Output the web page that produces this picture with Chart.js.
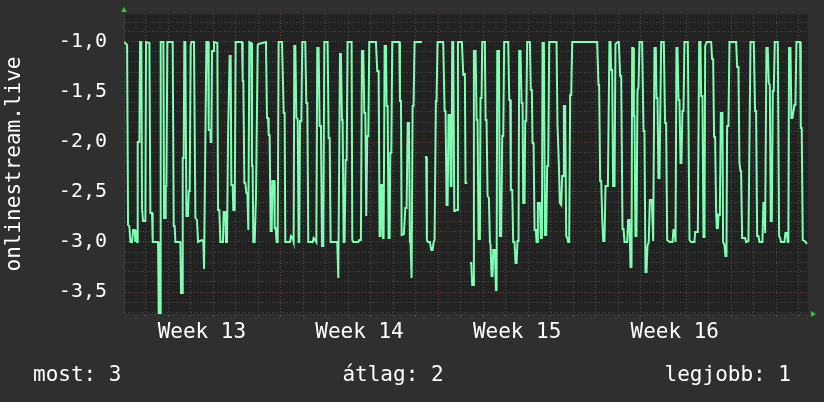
<!DOCTYPE html>
<html>
<head>
<meta charset="utf-8">
<script src="https://cdn.jsdelivr.net/npm/chart.js@4"></script>
<style>
  html, body { margin: 0; padding: 0; background: #2f2f2f; }
  canvas { display: block; }
</style>
</head>
<body>
<canvas id="chart" width="824" height="402"></canvas>
<script>
// idő (órák a 13. hét hétfőjétől) és érték párok
const samples = [
  [1.1,-1.0],[1.8,-1.0],[4.3,-1.03],[5.3,-2.83],[6.7,-2.84],[7.8,-3.0],[9.6,-3.0],[10.7,-2.88],[12.4,-2.88],[13.1,-3.0],[13.8,-2.88],[14.9,-3.0],[15.6,-2.0],[17.4,-2.0],[18.1,-1.0],[19.5,-1.0],[20.2,-2.66],[21.3,-2.79],[23.8,-2.79],[24.5,-1.0],[28.1,-1.01],[29.1,-2.71],[30.9,-2.71],[31.6,-3.0],[37.3,-3.0],[38.0,-3.72],[39.4,-3.72],[40.1,-1.0],[43.0,-1.0],[43.7,-2.76],[45.1,-2.76],[45.5,-2.44],[46.2,-2.44],[47.2,-1.0],[52.9,-1.0],[54.0,-2.84],[55.0,-2.84],[55.8,-3.0],[61.1,-3.0],[61.8,-3.51],[62.9,-3.51],[63.6,-2.16],[64.6,-2.16],[65.3,-1.0],[66.4,-1.0],[67.5,-2.74],[69.2,-2.74],[70.0,-2.49],[71.0,-2.49],[72.1,-1.03],[72.8,-1.0],[75.6,-1.0],[77.1,-2.76],[78.8,-2.78],[79.9,-3.0],[84.2,-2.98],[85.6,-3.0],[86.3,-3.27],[87.0,-3.27],[88.8,-1.0],[90.6,-1.0],[91.3,-1.88],[93.0,-1.88],[93.4,-2.0],[94.1,-2.0],[94.8,-1.09],[95.9,-1.09],[96.9,-1.0],[100.5,-1.01],[101.2,-2.68],[102.6,-2.68],[103.7,-3.0],[106.5,-3.0],[107.2,-2.7],[109.0,-2.7],[109.7,-3.0],[110.8,-3.0],[111.9,-1.94],[112.6,-1.94],[113.6,-1.14],[114.7,-1.14],[115.4,-2.43],[116.8,-2.43],[117.5,-2.68],[119.0,-2.68],[120.0,-1.0],
  [120.4,-1.0],[126.8,-1.0],[127.5,-1.39],[128.2,-1.39],[129.3,-2.41],[130.3,-2.41],[131.4,-2.51],[132.5,-2.51],[133.5,-2.88],[134.2,-2.88],[134.6,-1.0],[136.7,-1.01],[137.4,-2.24],[138.1,-2.24],[138.8,-3.0],[140.3,-3.0],[141.7,-2.53],[142.4,-2.53],[143.5,-1.03],[144.5,-1.02],[152.3,-1.0],[153.4,-1.76],[154.5,-1.76],[155.2,-1.93],[156.2,-1.93],[157.3,-2.89],[158.4,-2.89],[159.1,-2.39],[160.9,-2.39],[161.6,-2.86],[162.6,-2.86],[163.7,-3.0],[164.8,-3.0],[165.8,-1.0],[169.4,-1.0],[171.2,-1.71],[172.2,-1.71],[172.9,-3.0],[177.9,-3.0],[179.0,-2.94],[180.7,-2.96],[181.8,-3.0],[182.5,-1.04],[183.6,-1.04],[184.7,-1.76],[186.1,-1.77],[187.1,-3.0],[187.8,-3.0],[188.6,-1.79],[190.0,-1.79],[191.0,-1.0],[194.2,-1.0],[195.3,-1.61],[196.4,-1.61],[197.4,-3.0],[202.1,-3.0],[203.1,-2.96],[204.9,-2.98],[206.0,-3.0],[207.0,-1.06],[208.4,-1.06],[209.5,-1.84],[210.9,-1.84],[212.0,-3.04],[213.4,-3.04],[214.5,-1.0],[218.0,-1.0],[219.1,-1.96],[220.2,-1.96],[221.2,-3.0],[228.3,-3.0],[229.4,-3.36],[230.1,-3.36],[231.2,-1.12],[232.2,-1.12],[233.3,-1.78],[234.0,-1.78],[235.1,-3.0],[236.1,-3.0],[237.2,-2.18],[238.3,-2.18],[239.3,-1.0],[241.1,-1.0],
  [243.6,-1.0],[244.3,-2.98],[245.4,-3.0],[250.7,-3.0],[251.8,-2.98],[253.5,-2.98],[254.6,-1.09],[256.0,-1.09],[257.1,-1.71],[258.2,-1.71],[259.2,-2.74],[259.9,-2.74],[260.3,-1.94],[261.4,-1.94],[262.4,-1.0],[269.5,-1.0],[270.9,-1.29],[272.4,-1.29],[273.4,-2.94],[274.5,-2.94],[275.2,-2.43],[276.3,-2.43],[277.0,-2.96],[277.7,-2.96],[278.8,-1.04],[280.2,-1.04],[280.9,-1.64],[282.0,-1.64],[283.0,-2.96],[284.1,-2.96],[284.8,-2.11],[285.9,-2.11],[286.9,-1.0],[294.4,-1.0],[295.1,-1.59],[296.2,-1.59],[296.9,-2.93],[299.3,-2.92],[300.8,-2.66],[302.2,-2.66],[303.3,-1.81],[304.7,-1.81],[305.7,-3.0],[306.4,-3.0],[307.5,-3.36],[307.9,-3.36],[308.6,-1.64],[309.6,-1.64],[310.7,-1.0],[318.5,-1.0],[320.0,null],[321.7,-2.15],[323.1,-2.15],[323.8,-2.98],[324.9,-3.0],[327.0,-3.0],[328.5,-3.08],[329.9,-3.08],[331.0,-3.0],[332.0,-2.98],[333.4,-1.59],[334.1,-1.59],[335.2,-1.0],[341.2,-1.0],[342.7,-1.69],[343.7,-1.69],[344.8,-2.63],[345.9,-2.63],[346.9,-1.73],[348.4,-1.73],[349.1,-2.44],[350.1,-2.44],[350.8,-1.0],[351.9,-1.0],[353.0,-2.69],[354.0,-2.69],[355.1,-2.68],[356.2,-2.68],[356.9,-1.0],[361.1,-1.0],[362.6,-1.33],[364.0,-1.33],
  [364.3,-1.31],[365.0,-2.41],[366.8,-2.41],[368.2,null],[369.7,-3.21],[371.1,-3.21],[372.1,-3.43],[373.2,-3.43],[373.9,-1.09],[375.7,-1.09],[376.8,-1.78],[377.8,-1.78],[378.9,-2.97],[380.3,-2.97],[381.0,-1.56],[382.1,-1.56],[382.8,-1.0],[385.6,-1.0],[386.4,-1.78],[387.4,-1.78],[388.5,-2.54],[389.9,-2.56],[391.0,-3.0],[391.7,-3.03],[392.7,-3.34],[393.8,-3.34],[394.5,-3.08],[396.3,-3.08],[397.4,-3.48],[398.1,-3.48],[398.8,-1.09],[400.6,-1.09],[401.6,-2.94],[403.0,-2.94],[404.1,-1.94],[405.2,-1.94],[406.2,-1.0],[410.5,-1.0],[411.6,-1.58],[412.6,-1.58],[413.3,-2.48],[414.8,-2.48],[415.8,-3.0],[417.2,-3.0],[418.3,-3.21],[419.4,-3.21],[420.4,-2.99],[421.5,-2.99],[422.2,-1.09],[423.6,-1.09],[424.7,-1.61],[425.8,-1.61],[426.5,-2.61],[427.9,-2.61],[428.6,-1.79],[429.7,-1.79],[430.7,-1.0],[433.6,-1.0],[434.6,-1.48],[435.7,-1.48],[436.4,-2.01],[437.5,-2.01],[438.6,-2.88],[440.0,-2.88],[440.7,-3.0],[441.4,-3.0],[442.1,-2.61],[444.2,-2.61],[445.3,-2.96],[446.4,-2.96],[447.1,-1.01],[448.5,-1.01],[449.6,-2.93],[451.0,-2.93],[452.0,-2.24],[453.1,-2.24],[454.2,-1.0],[462.0,-1.0],[463.0,-1.83],[464.5,-2.23],[465.5,-2.61],[467.0,-2.63],[468.0,-2.34],[469.1,-2.34],[469.8,-1.64],[471.2,-1.64],[472.3,-2.94],[473.4,-2.96],[474.4,-3.0],[475.5,-3.0],[476.5,-1.53],[477.6,-1.53],[478.7,-1.0],[486.8,-1.0],
  [505.3,-1.0],[506.7,-1.43],[507.4,-1.43],[508.5,-2.39],[509.6,-2.39],[510.6,-2.74],[511.7,-2.99],[513.1,-2.99],[514.2,-2.44],[516.7,-2.44],[518.4,-1.0],[519.5,-1.0],[520.2,-1.28],[521.3,-1.28],[522.3,-2.44],[523.8,-2.44],[524.8,-1.02],[527.3,-1.0],[528.4,-1.0],[529.8,-1.34],[530.9,-1.34],[532.3,-2.87],[533.4,-2.87],[534.4,-3.0],[537.3,-3.0],[538.3,-2.78],[539.7,-2.78],[540.8,-3.25],[541.9,-3.25],[542.6,-1.06],[543.7,-1.06],[544.4,-1.74],[545.1,-1.74],[546.1,-2.94],[547.2,-2.94],[548.3,-1.48],[549.3,-1.46],[550.4,-1.0],[553.2,-1.0],[554.7,-1.89],[555.7,-1.89],[556.8,-3.3],[557.9,-3.3],[558.9,-3.04],[560.3,-3.0],[561.4,-2.58],[563.5,-2.58],[565.0,-2.99],[565.7,-2.99],[566.4,-1.06],[567.8,-1.06],[568.5,-1.56],[569.6,-1.56],[570.6,-2.36],[571.7,-2.36],[573.5,-1.0],[576.3,-1.0],[577.7,-1.81],[578.8,-1.81],[579.9,-2.98],[581.3,-2.99],[582.4,-3.0],[585.6,-3.0],[586.6,-2.88],[587.7,-2.88],[588.8,-3.0],[589.8,-1.06],[590.9,-1.06],[592.0,-1.58],[593.0,-1.58],[594.1,-2.21],[595.1,-2.21],[596.2,-1.69],[597.3,-1.69],[598.3,-1.0],[601.9,-1.0],[603.7,-2.98],[605.4,-3.0],
  [606.2,-3.0],[609.0,-3.0],[609.7,-2.9],[612.6,-2.9],[614.0,-1.0],[615.4,-1.0],[616.1,-1.54],[617.5,-1.54],[618.6,-2.95],[619.7,-2.95],[620.4,-1.04],[622.1,-1.0],[626.8,-1.0],[627.8,-1.17],[628.9,-1.17],[629.9,-1.95],[631.0,-1.95],[632.1,-2.71],[632.8,-2.86],[633.9,-2.86],[634.6,-2.73],[636.0,-2.73],[637.1,-1.71],[638.8,-1.71],[639.5,-3.0],[641.0,-3.03],[642.0,-3.14],[643.1,-3.14],[643.8,-1.84],[645.2,-1.84],[646.3,-1.0],[653.4,-1.0],[654.5,-1.25],[655.9,-1.25],[656.9,-2.21],[658.0,-2.29],[658.7,-2.29],[659.8,-2.96],[663.0,-2.96],[664.0,-3.0],[666.5,-2.99],[668.7,-1.0],[672.2,-1.0],[673.6,-1.69],[674.7,-1.69],[675.8,-2.94],[677.2,-2.94],[678.2,-3.0],[681.4,-3.0],[682.5,-2.61],[683.6,-2.61],[684.3,-2.91],[685.0,-2.91],[685.7,-1.06],[687.1,-1.06],[688.2,-1.41],[689.3,-1.43],[690.3,-2.79],[691.4,-2.79],[692.5,-1.49],[693.5,-1.49],[694.6,-1.0],[697.8,-1.0],[699.2,-2.94],[700.3,-2.96],[701.3,-3.0],[704.9,-3.0],[705.9,-2.91],[707.4,-2.91],[708.4,-3.0],[709.1,-3.0],[709.8,-1.06],[711.3,-1.06],[712.3,-1.76],[713.4,-1.76],[715.5,-1.63],[716.6,-1.63],[717.7,-1.0],[721.6,-1.0],[722.3,-1.86],[723.3,-1.86],[724.4,-2.98],[726.2,-2.99],[727.6,-3.0],[728.7,-3.02]
];

const weekLabels = ["Week 13", "Week 14", "Week 15", "Week 16"];
const yTickValues = [-3.5, -3.0, -2.5, -2.0, -1.5, -1.0];
const yTickLabels = ["-3,5", "-3,0", "-2,5", "-2,0", "-1,5", "-1,0"];
const legendItems = ["most: 3", "átlag: 2", "legjobb: 1"];
const yTitle = "onlinestream.live";

const MONO = "'DejaVu Sans Mono', monospace";
const gridGrey = "#4a4a4a";
const gridRed = "#7c3a3a";

// háttér, nyilak, lábléc
const rrdLook = {
  id: "rrdLook",
  beforeDraw(chart) {
    const { ctx, chartArea: a } = chart;
    ctx.save();
    ctx.fillStyle = "#2f2f2f";
    ctx.fillRect(0, 0, chart.width, chart.height);
    ctx.fillStyle = "#222222";
    ctx.fillRect(a.left, a.top, a.right - a.left, a.bottom - a.top);
    ctx.restore();
  },
  afterDraw(chart) {
    const { ctx, chartArea: a } = chart;
    ctx.save();
    ctx.fillStyle = "#22d022";
    ctx.beginPath();
    ctx.moveTo(a.left - 3, a.top - 2);
    ctx.lineTo(a.left + 3, a.top - 2);
    ctx.lineTo(a.left, a.top - 7);
    ctx.fill();
    ctx.beginPath();
    ctx.moveTo(a.right + 3, a.bottom - 3);
    ctx.lineTo(a.right + 3, a.bottom + 3);
    ctx.lineTo(a.right + 8, a.bottom);
    ctx.fill();

    ctx.fillStyle = "#ffffff";
    ctx.font = "21px " + MONO;
    ctx.textBaseline = "alphabetic";
    ctx.textAlign = "left";
    ctx.fillText(legendItems[0], 33, 381);
    ctx.textAlign = "center";
    ctx.fillText(legendItems[1], 393, 381);
    ctx.textAlign = "right";
    ctx.fillText(legendItems[2], 791, 381);
    ctx.restore();
  }
};

const isMajorY = v => Math.round(v * 10) % 5 === 0;

new Chart(document.getElementById("chart"), {
  type: "line",
  data: {
    datasets: [{
      data: samples.map(p => ({ x: p[0], y: p[1] })),
      borderColor: "#7fffb4",
      borderWidth: 2,
      pointRadius: 0,
      tension: 0,
      spanGaps: false,
      fill: false
    }]
  },
  options: {
    responsive: false,
    animation: false,
    layout: { padding: { top: 14, right: 16, bottom: 48, left: 0 } },
    plugins: { legend: { display: false }, tooltip: { enabled: false } },
    scales: {
      x: {
        type: "linear",
        min: 1,
        max: 730,
        afterBuildTicks: s => {
          s.ticks = [];
          for (let h = 12; h <= 720; h += 12) s.ticks.push({ value: h });
        },
        afterFit: s => { s.height = 40; },
        grid: {
          color: c => {
            const v = c.tick.value;
            if (v % 168 === 0) return gridRed;
            if (v % 24 === 0) return gridGrey;
            return "transparent";
          },
          tickLength: 3
        },
        border: { display: true, color: "#3a3a3a", dash: [1, 2] },
        ticks: {
          autoSkip: false,
          minRotation: 0,
          maxRotation: 0,
          padding: 3,
          color: "#ffffff",
          font: { family: MONO, size: 21 },
          callback: v => ((v - 84) % 168 === 0 ? weekLabels[(v - 84) / 168] : "")
        }
      },
      y: {
        min: -3.72,
        max: -0.72,
        afterBuildTicks: s => {
          s.ticks = [];
          for (let i = -37; i <= -8; i++) s.ticks.push({ value: i / 10 });
        },
        afterFit: s => { s.width = 124; },
        grid: {
          color: c => (isMajorY(c.tick.value) ? gridRed : gridGrey),
          drawTicks: true,
          tickLength: 17,
          tickColor: "transparent"
        },
        border: { display: true, color: "#3a3a3a", dash: [1, 2] },
        ticks: {
          autoSkip: false,
          padding: 0,
          color: "#ffffff",
          font: { family: MONO, size: 20 },
          callback: v => {
            const i = yTickValues.findIndex(t => Math.abs(t - v) < 1e-6);
            return i >= 0 ? yTickLabels[i] : "";
          }
        },
        title: {
          display: true,
          text: yTitle,
          color: "#ffffff",
          font: { family: MONO, size: 21 },
          padding: { top: 2, bottom: 0 }
        }
      }
    }
  },
  plugins: [rrdLook]
});
</script>
</body>
</html>
